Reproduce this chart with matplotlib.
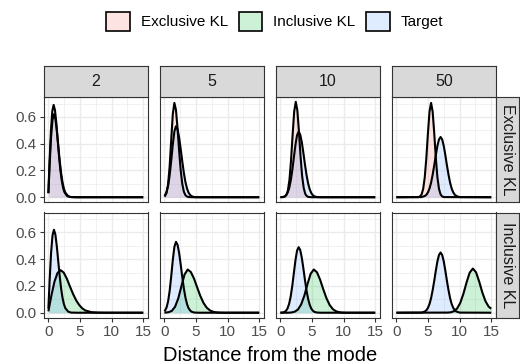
import matplotlib.pyplot as plt
import matplotlib.colors as mcolors
from matplotlib.patches import Patch

plt.rcParams['font.family'] = ['Liberation Sans', 'DejaVu Sans']

# facets
dims = ['2', '5', '10', '50']
methods = ['Exclusive KL', 'Inclusive KL']
x_ticks = [0, 5, 10, 15]
y_ticks = [0.0, 0.2, 0.4, 0.6]

# density curves (x = distance, y = density)
tgt2_x = [0.02, 0.225, 0.45, 0.675, 0.9, 1.125, 1.35, 1.575, 1.8, 2.025, 2.25, 2.475, 2.7, 3.15, 3.6, 4.5, 15]
tgt2_y = [0.03, 0.248, 0.451, 0.579, 0.62, 0.585, 0.498, 0.387, 0.277, 0.183, 0.112, 0.064, 0.034, 0.008, 0.001, 0, 0]
exc2_x = [0.02, 0.21, 0.43, 0.64, 0.85, 1.06, 1.28, 1.49, 1.7, 1.91, 2.13, 2.34, 2.55, 2.98, 3.4, 4.3, 15]
exc2_y = [0.03, 0.276, 0.502, 0.644, 0.69, 0.651, 0.554, 0.431, 0.308, 0.204, 0.125, 0.071, 0.038, 0.009, 0.002, 0, 0]
inc2_x = [0.02, 0.49, 0.98, 1.46, 1.95, 2.44, 2.93, 3.41, 3.9, 4.39, 4.88, 5.36, 5.85, 6.83, 7.8, 9.0, 15]
inc2_y = [0.01, 0.127, 0.232, 0.297, 0.318, 0.300, 0.255, 0.198, 0.142, 0.094, 0.058, 0.033, 0.017, 0.004, 0.001, 0, 0]

tgt5_x = [0.02, 0.1, 0.35, 0.6, 0.85, 1.1, 1.35, 1.6, 1.85, 2.1, 2.35, 2.6, 2.85, 3.1, 3.35, 3.6, 3.85, 4.1, 4.35, 4.6, 4.85, 5.5, 15]
tgt5_y = [0.01, 0.014, 0.037, 0.083, 0.162, 0.272, 0.394, 0.492, 0.53, 0.508, 0.446, 0.359, 0.266, 0.180, 0.112, 0.064, 0.033, 0.016, 0.007, 0.003, 0.001, 0, 0]
exc5_x = [0.02, 0.1, 0.35, 0.6, 0.85, 1.1, 1.35, 1.6, 1.85, 2.1, 2.35, 2.6, 2.85, 3.1, 3.35, 3.6, 3.85, 4.5, 15]
exc5_y = [0.005, 0.008, 0.031, 0.095, 0.229, 0.428, 0.622, 0.705, 0.652, 0.514, 0.347, 0.200, 0.099, 0.041, 0.015, 0.005, 0.001, 0, 0]
inc5_x = [0.02, 0.2, 0.7, 1.2, 1.7, 2.2, 2.7, 3.2, 3.7, 4.2, 4.7, 5.2, 5.7, 6.2, 6.7, 7.2, 7.7, 8.2, 8.7, 9.5, 15]
inc5_y = [0, 0.001, 0.004, 0.014, 0.044, 0.105, 0.196, 0.285, 0.323, 0.304, 0.255, 0.189, 0.125, 0.073, 0.038, 0.018, 0.007, 0.003, 0.001, 0, 0]

tgt10_x = [0.02, 0.4, 0.65, 0.9, 1.15, 1.4, 1.65, 1.9, 2.15, 2.4, 2.65, 2.9, 3.15, 3.4, 3.65, 3.9, 4.15, 4.4, 4.65, 4.9, 5.15, 5.4, 5.65, 5.9, 6.5, 15]
tgt10_y = [0, 0.002, 0.005, 0.014, 0.032, 0.066, 0.122, 0.201, 0.297, 0.392, 0.463, 0.49, 0.469, 0.412, 0.332, 0.245, 0.166, 0.103, 0.059, 0.031, 0.015, 0.006, 0.003, 0.001, 0, 0]
exc10_x = [0.02, 0.45, 0.7, 0.95, 1.2, 1.45, 1.7, 1.95, 2.2, 2.45, 2.7, 2.95, 3.2, 3.45, 3.7, 3.95, 4.2, 4.45, 5.0, 15]
exc10_y = [0, 0.001, 0.004, 0.015, 0.049, 0.128, 0.272, 0.464, 0.640, 0.713, 0.650, 0.492, 0.309, 0.161, 0.070, 0.025, 0.008, 0.002, 0, 0]
inc10_x = [0.02, 1.3, 1.8, 2.3, 2.8, 3.3, 3.8, 4.3, 4.8, 5.3, 5.8, 6.3, 6.8, 7.3, 7.8, 8.3, 8.8, 9.3, 9.8, 10.5, 15]
inc10_y = [0, 0, 0.002, 0.008, 0.024, 0.062, 0.127, 0.214, 0.291, 0.323, 0.302, 0.246, 0.174, 0.108, 0.058, 0.027, 0.011, 0.004, 0.001, 0, 0]

tgt50_x = [0.02, 4.0, 4.5, 4.75, 5.0, 5.25, 5.5, 5.75, 6.0, 6.25, 6.5, 6.75, 7.0, 7.25, 7.5, 7.75, 8.0, 8.25, 8.5, 8.75, 9.0, 9.25, 9.5, 10.0, 15]
tgt50_y = [0, 0.001, 0.009, 0.018, 0.036, 0.065, 0.109, 0.169, 0.239, 0.315, 0.384, 0.432, 0.45, 0.432, 0.384, 0.315, 0.239, 0.169, 0.109, 0.065, 0.036, 0.018, 0.009, 0.001, 0]
exc50_x = [0.02, 3.5, 3.75, 4.0, 4.25, 4.5, 4.75, 5.0, 5.25, 5.5, 5.75, 6.0, 6.25, 6.5, 6.75, 7.0, 7.25, 7.5, 15]
exc50_y = [0, 0.001, 0.006, 0.021, 0.062, 0.148, 0.293, 0.477, 0.639, 0.705, 0.639, 0.477, 0.293, 0.148, 0.062, 0.021, 0.006, 0.001, 0]
inc50_x = [0.02, 8.1, 8.6, 9.1, 9.6, 10.1, 10.6, 11.1, 11.6, 12.1, 12.6, 13.1, 13.6, 14.1, 14.6, 15.0]
inc50_y = [0, 0.001, 0.003, 0.011, 0.031, 0.073, 0.141, 0.226, 0.300, 0.33, 0.302, 0.232, 0.150, 0.085, 0.045, 0.03]

target = {'2': (tgt2_x, tgt2_y), '5': (tgt5_x, tgt5_y),
          '10': (tgt10_x, tgt10_y), '50': (tgt50_x, tgt50_y)}
approx = {
    'Exclusive KL': {'2': (exc2_x, exc2_y), '5': (exc5_x, exc5_y),
                     '10': (exc10_x, exc10_y), '50': (exc50_x, exc50_y)},
    'Inclusive KL': {'2': (inc2_x, inc2_y), '5': (inc5_x, inc5_y),
                     '10': (inc10_x, inc10_y), '50': (inc50_x, inc50_y)},
}

colors = {'Exclusive KL': '#F8766D', 'Inclusive KL': '#00BA38', 'Target': '#619CFF'}

W, H = 520, 364
fig = plt.figure(figsize=(W / 100, H / 100), dpi=100)


def box(left, top, w, h):
    # pixel box (from top-left) -> figure fraction
    return [left / W, 1 - (top + h) / H, w / W, h / H]


col_left = [43.5, 159.5, 275.5, 391.5]
pw, ph = 104.5, 105
row_top = [97, 212.5]
border = '#333333'


def draw_density(ax, x, y, col):
    ax.fill_between(x, y, 0, color=col, alpha=0.2, lw=0)
    ax.plot(x, y, color='black', lw=1.5, solid_capstyle='butt')


for r, m in enumerate(methods):
    for c, d in enumerate(dims):
        ax = fig.add_axes(box(col_left[c], row_top[r], pw, ph))
        ax.set_xlim(-0.75, 15.75)
        ax.set_ylim(-0.0357, 0.749)
        ax.set_xticks(x_ticks)
        ax.set_yticks(y_ticks)
        ax.set_xticks([2.5, 7.5, 12.5], minor=True)
        ax.set_yticks([0.1, 0.3, 0.5, 0.7], minor=True)
        ax.grid(which='major', color='#EBEBEB', lw=1.0)
        ax.grid(which='minor', color='#EBEBEB', lw=0.5)
        ax.set_axisbelow(True)
        for s in ax.spines.values():
            s.set_color(border)
            s.set_linewidth(0.8)
        ax.tick_params(which='major', length=2.8, width=0.8, color=border,
                       labelsize=11, labelcolor='#4D4D4D', pad=2.5)
        ax.tick_params(which='minor', length=0)
        ax.set_yticklabels(['%.1f' % v for v in y_ticks])
        if c > 0:
            ax.tick_params(axis='y', left=False, labelleft=False)
        if r == 0:
            ax.tick_params(axis='x', bottom=False, labelbottom=False)

        ax_x, ax_y = approx[m][d]
        draw_density(ax, ax_x, ax_y, colors[m])
        t_x, t_y = target[d]
        draw_density(ax, t_x, t_y, colors['Target'])

# column strips
for c, d in enumerate(dims):
    s = fig.add_axes(box(col_left[c], 66, pw, 31))
    s.set_facecolor('#D9D9D9')
    s.set_xticks([])
    s.set_yticks([])
    for sp in s.spines.values():
        sp.set_color(border)
        sp.set_linewidth(0.8)
    s.text(0.5, 0.5, d, ha='center', va='center', fontsize=11.5, color='#1A1A1A',
           transform=s.transAxes)

# row strips
for r, m in enumerate(methods):
    s = fig.add_axes(box(496, row_top[r], 23, ph))
    s.set_facecolor('#D9D9D9')
    s.set_xticks([])
    s.set_yticks([])
    for sp in s.spines.values():
        sp.set_color(border)
        sp.set_linewidth(0.8)
    s.text(0.5, 0.5, m, ha='center', va='center', rotation=-90, fontsize=11.5,
           color='#1A1A1A', transform=s.transAxes)

fig.text(269.7 / W, 1 - 361 / H, 'Distance from the mode', ha='center',
         va='baseline', fontsize=14.5)

handles = [Patch(facecolor=mcolors.to_rgba(colors[k], 0.2), edgecolor='black',
                 lw=1.2, label=k) for k in ['Exclusive KL', 'Inclusive KL', 'Target']]
fig.legend(handles=handles, loc='center', bbox_to_anchor=(274.7 / W, 1 - 21.3 / H),
           ncol=3, frameon=False, fontsize=11, handlelength=1.55, handleheight=1.55,
           handletextpad=0.7, columnspacing=0.7)

fig.savefig('out.png', dpi=100)
